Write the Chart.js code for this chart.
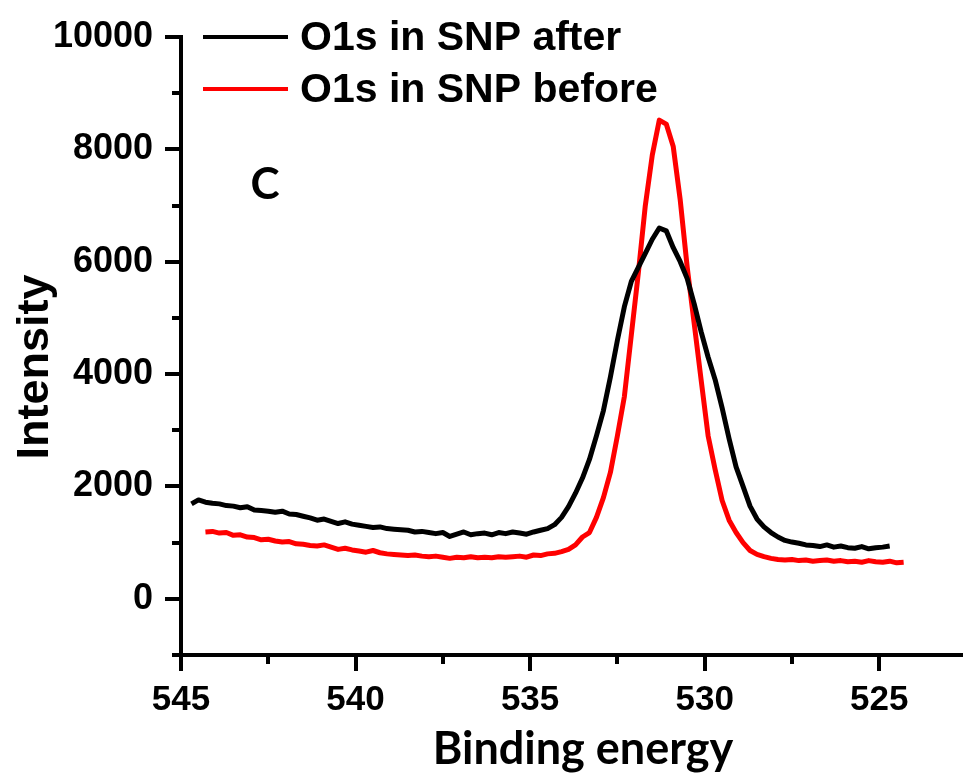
<!DOCTYPE html>
<html>
<head>
<meta charset="utf-8">
<script src="https://cdn.jsdelivr.net/npm/chart.js@4.4.0/dist/chart.umd.min.js"></script>
<style>
html, body { margin: 0; padding: 0; background: #fff; }
#wrap { width: 963px; height: 776px; }
</style>
</head>
<body>
<div id="wrap"><canvas id="myChart" width="963" height="776"></canvas></div>
<script>
// binding energy (eV) for the "after" scan
var energyAfter = [
  544.7, 544.5, 544.3, 544.1, 543.9, 543.7, 543.5, 543.3, 543.1, 542.9,
  542.7, 542.5, 542.3, 542.1, 541.9, 541.7, 541.5, 541.3, 541.1, 540.9,
  540.7, 540.5, 540.3, 540.1, 539.9, 539.7, 539.5, 539.3, 539.1, 538.9,
  538.7, 538.5, 538.3, 538.1, 537.9, 537.7, 537.5, 537.3, 537.1, 536.9,
  536.7, 536.5, 536.3, 536.1, 535.9, 535.7, 535.5, 535.3, 535.1, 534.9,
  534.7, 534.5, 534.3, 534.1, 533.9, 533.7, 533.5, 533.3, 533.1, 532.9,
  532.7, 532.5, 532.3, 532.1, 531.9, 531.7, 531.5, 531.3, 531.1, 530.9,
  530.7, 530.5, 530.3, 530.1, 529.9, 529.7, 529.5, 529.3, 529.1, 528.9,
  528.7, 528.5, 528.3, 528.1, 527.9, 527.7, 527.5, 527.3, 527.1, 526.9,
  526.7, 526.5, 526.3, 526.1, 525.9, 525.7, 525.5, 525.3, 525.1, 524.9,
  524.7
];
var intensityAfter = [
  1690, 1760, 1720, 1700, 1690, 1660, 1650, 1620, 1640, 1580,
  1570, 1560, 1540, 1560, 1510, 1500, 1470, 1440, 1400, 1420,
  1380, 1340, 1370, 1330, 1310, 1290, 1270, 1280, 1250, 1240,
  1230, 1220, 1190, 1200, 1180, 1160, 1180, 1110, 1150, 1190,
  1140, 1160, 1170, 1140, 1180, 1160, 1190, 1170, 1150, 1190,
  1220, 1250, 1320, 1450, 1640, 1880, 2150, 2480, 2900, 3350,
  3950, 4600, 5200, 5650, 5900, 6150, 6400, 6600, 6550, 6250,
  6000, 5700, 5250, 4750, 4300, 3900, 3400, 2850, 2350, 2000,
  1650, 1420, 1280, 1180, 1100, 1040, 1010, 990, 960, 950,
  930, 960, 920, 940, 910, 900, 930, 890, 910, 920,
  940
];

// binding energy (eV) for the "before" scan
var energyBefore = [
  544.3, 544.1, 543.9, 543.7, 543.5, 543.3, 543.1, 542.9, 542.7, 542.5,
  542.3, 542.1, 541.9, 541.7, 541.5, 541.3, 541.1, 540.9, 540.7, 540.5,
  540.3, 540.1, 539.9, 539.7, 539.5, 539.3, 539.1, 538.9, 538.7, 538.5,
  538.3, 538.1, 537.9, 537.7, 537.5, 537.3, 537.1, 536.9, 536.7, 536.5,
  536.3, 536.1, 535.9, 535.7, 535.5, 535.3, 535.1, 534.9, 534.7, 534.5,
  534.3, 534.1, 533.9, 533.7, 533.5, 533.3, 533.1, 532.9, 532.7, 532.5,
  532.3, 532.1, 531.9, 531.7, 531.5, 531.3, 531.1, 530.9, 530.7, 530.5,
  530.3, 530.1, 529.9, 529.7, 529.5, 529.3, 529.1, 528.9, 528.7, 528.5,
  528.3, 528.1, 527.9, 527.7, 527.5, 527.3, 527.1, 526.9, 526.7, 526.5,
  526.3, 526.1, 525.9, 525.7, 525.5, 525.3, 525.1, 524.9, 524.7, 524.5,
  524.3
];
var intensityBefore = [
  1190, 1200, 1170, 1180, 1130, 1140, 1100, 1090, 1050, 1060,
  1030, 1010, 1020, 980, 970, 950, 940, 960, 920, 880,
  900, 870, 850, 830, 860, 820, 800, 790, 780, 770,
  780, 760, 750, 760, 740, 720, 740, 730, 750, 730,
  740, 730, 750, 740, 750, 760, 740, 780, 770, 800,
  810, 840, 880, 960, 1100, 1180, 1450, 1800, 2250, 2900,
  3600, 4700, 5800, 7000, 7900, 8520, 8450, 8050, 7100, 5900,
  4900, 3890, 2900, 2300, 1750, 1400, 1180, 1000, 860, 790,
  750, 720, 700, 690, 700, 680, 690, 670, 680, 690,
  670, 680, 660, 670, 650, 680, 660, 650, 670, 640,
  650
];

var seriesLabels = ['O1s in SNP after', 'O1s in SNP before'];
var xTicks = [545, 542.5, 540, 537.5, 535, 532.5, 530, 527.5, 525];
var yTicks = [-1000, 0, 1000, 2000, 3000, 4000, 5000, 6000, 7000, 8000, 9000, 10000];

function toPoints(xs, ys) {
  return xs.map(function (x, i) { return { x: x, y: ys[i] }; });
}

// tick marks (long for labelled, short for minor), titles, legend and the "C" tag
var decorations = {
  id: 'decorations',
  afterDraw: function (chart) {
    var ctx = chart.ctx;
    var xs = chart.scales.x, ys = chart.scales.y;
    var area = chart.chartArea;
    ctx.save();
    ctx.strokeStyle = '#000';
    ctx.lineWidth = 4;
    ctx.lineCap = 'butt';
    xTicks.forEach(function (v) {
      var px = Math.round(xs.getPixelForValue(v));
      var len = (v % 5 === 0) ? 16 : 9;
      ctx.beginPath();
      ctx.moveTo(px, area.bottom);
      ctx.lineTo(px, area.bottom + len);
      ctx.stroke();
    });
    yTicks.forEach(function (v) {
      var py = Math.round(ys.getPixelForValue(v));
      var len = (v % 2000 === 0) ? 16 : 9;
      ctx.beginPath();
      ctx.moveTo(area.left, py);
      ctx.lineTo(area.left - len, py);
      ctx.stroke();
    });

    // axis titles
    ctx.fillStyle = '#000';
    ctx.textAlign = 'center';
    ctx.textBaseline = 'alphabetic';
    ctx.font = 'bold 45px Lato';
    ctx.fillText('Binding energy', 583, 764);
    ctx.save();
    ctx.translate(48, 367);
    ctx.rotate(-Math.PI / 2);
    ctx.font = 'bold 45px "Liberation Sans"';
    ctx.fillText('Intensity', 0, 0);
    ctx.restore();

    // panel tag
    ctx.font = 'bold 44px Lato';
    ctx.fillText('C', 265, 199);

    // legend
    ctx.textAlign = 'left';
    ctx.textBaseline = 'middle';
    ctx.font = 'bold 41px "Liberation Sans"';
    chart.data.datasets.forEach(function (ds, i) {
      var y = 37 + i * 52;
      ctx.strokeStyle = ds.borderColor;
      ctx.lineWidth = 4;
      ctx.beginPath();
      ctx.moveTo(203, y);
      ctx.lineTo(288, y);
      ctx.stroke();
      ctx.fillText(ds.label, 300, y + 2);
    });
    ctx.restore();
  }
};

var ctx = document.getElementById('myChart').getContext('2d');
var chart = new Chart(ctx, {
  type: 'line',
  data: {
    datasets: [{
      label: seriesLabels[0],
      data: toPoints(energyAfter, intensityAfter),
      borderColor: '#000000',
      borderWidth: 5,
      borderJoinStyle: 'round',
      pointRadius: 0,
      tension: 0
    }, {
      label: seriesLabels[1],
      data: toPoints(energyBefore, intensityBefore),
      borderColor: '#ff0000',
      borderWidth: 5,
      borderJoinStyle: 'round',
      pointRadius: 0,
      tension: 0
    }]
  },
  options: {
    responsive: false,
    animation: false,
    layout: { padding: { top: 37, right: 0, left: 0, bottom: 0 } },
    plugins: { legend: { display: false }, tooltip: { enabled: false } },
    scales: {
      x: {
        type: 'linear',
        reverse: true,
        min: 522.6,
        max: 545,
        afterBuildTicks: function (s) { s.ticks = xTicks.map(function (v) { return { value: v }; }); },
        afterFit: function (s) { s.height = 121; s.paddingLeft = 0; s.paddingRight = 0; },
        grid: { display: false, drawTicks: false },
        border: { display: true, color: '#000', width: 4 },
        ticks: {
          autoSkip: false,
          maxRotation: 0,
          padding: 24,
          color: '#000',
          font: { family: '"Liberation Sans"', size: 35, weight: 'bold' },
          callback: function (v) { return v % 5 === 0 ? String(v) : ''; }
        }
      },
      y: {
        min: -1000,
        max: 10000,
        afterBuildTicks: function (s) { s.ticks = yTicks.map(function (v) { return { value: v }; }); },
        afterFit: function (s) { s.width = 181; s.paddingTop = 0; s.paddingBottom = 0; },
        grid: { display: false, drawTicks: false },
        border: { display: true, color: '#000', width: 4 },
        ticks: {
          autoSkip: false,
          padding: 28,
          color: '#000',
          font: { family: '"Liberation Sans"', size: 36, weight: 'bold' },
          callback: function (v) { return v % 2000 === 0 ? String(v) : ''; }
        }
      }
    }
  },
  plugins: [decorations]
});
</script>
</body>
</html>
